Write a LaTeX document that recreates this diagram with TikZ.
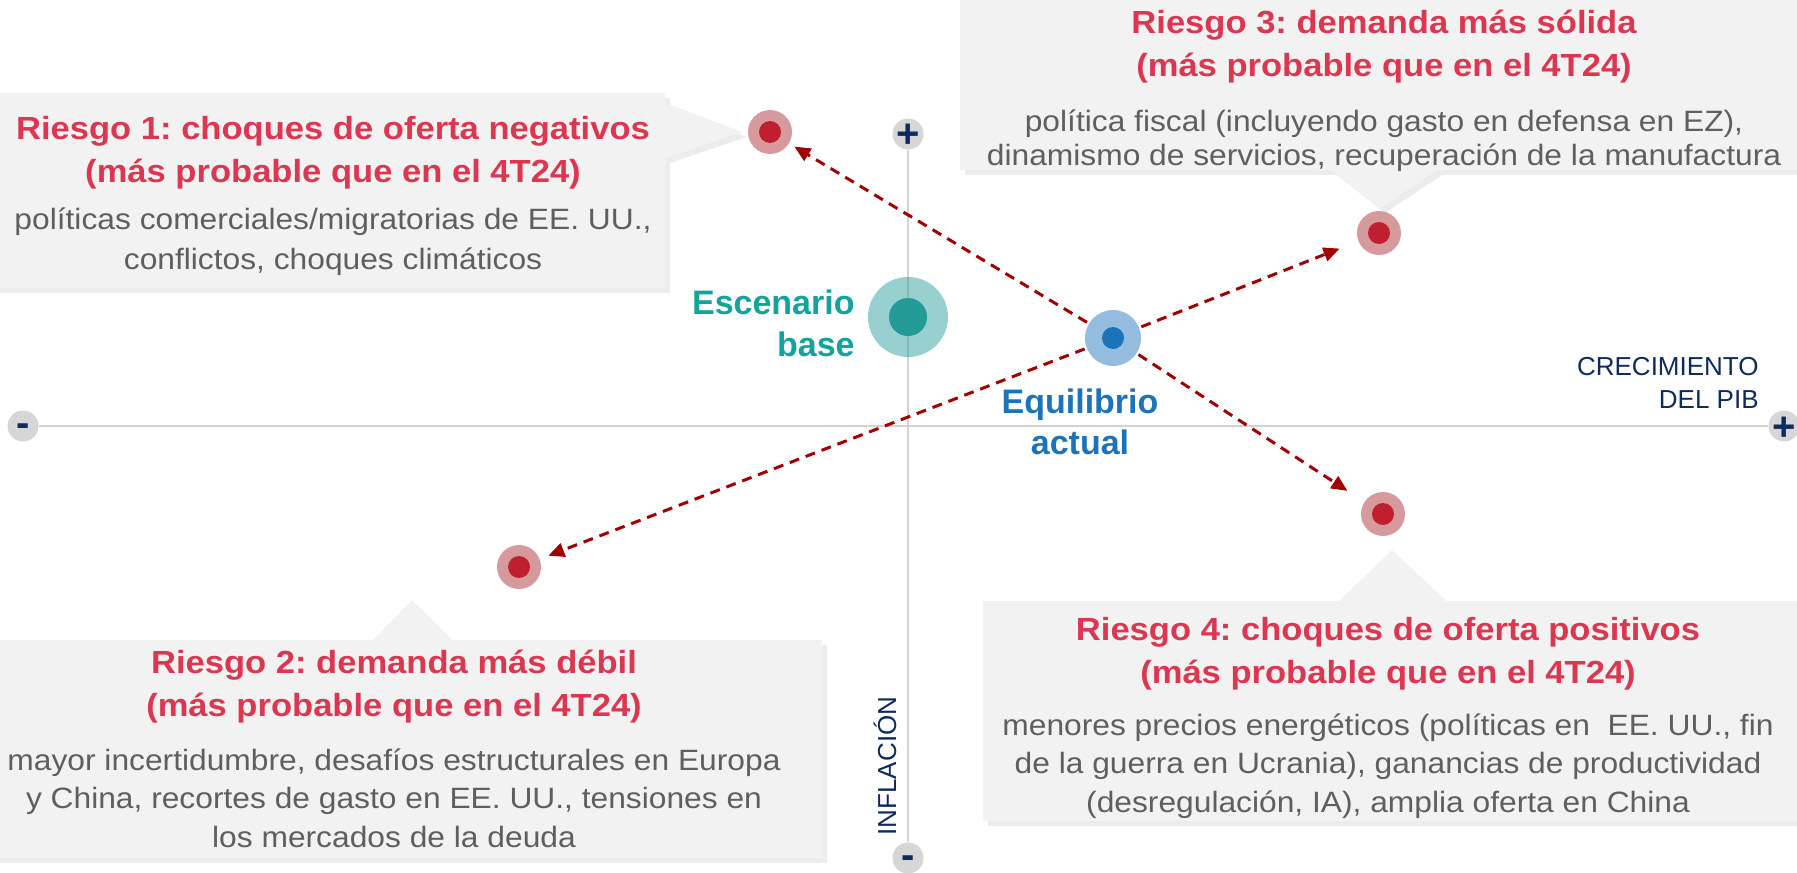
\documentclass[tikz,border=0pt]{standalone}
\usepackage{fontspec}
\setmainfont{Liberation Sans}
\newfontfamily\boxfont{Liberation Sans}[FakeStretch=1.08]
\usetikzlibrary{arrows.meta,shadows}
\frenchspacing

\definecolor{riskred}{HTML}{DC3751}
\definecolor{ringred}{HTML}{D79A9C}
\definecolor{dotred}{HTML}{C01F30}
\definecolor{ringteal}{HTML}{239B97}
\definecolor{tealtext}{HTML}{14A29C}
\definecolor{ringblue}{HTML}{94BCDF}
\definecolor{dotblue}{HTML}{1C73B9}
\definecolor{arrowred}{HTML}{A00000}
\definecolor{navy}{HTML}{0D2B5B}
\definecolor{axisgray}{HTML}{D3D3D3}
\definecolor{axisdot}{HTML}{D6D6D6}
\definecolor{boxgray}{HTML}{F2F2F2}
\definecolor{bodygray}{HTML}{5F5F5F}

\tikzset{
  callout/.style={fill=boxgray, drop shadow={shadow xshift=2.5pt, shadow yshift=-2.5pt, opacity=0.15}},
  risktitle/.style={align=center, inner sep=0pt, text=riskred, font=\boxfont\bfseries\fontsize{16}{21.5}\selectfont},
  riskbody/.style={align=center, inner sep=0pt, text=bodygray, font=\boxfont\fontsize{14.7}{#1}\selectfont},
  riskbody/.default=19.25pt,
  riskdot/.style={circle, fill=ringred, minimum size=22pt, inner sep=0pt,
    path picture={\fill[dotred] (path picture bounding box.center) circle (5.5pt);}},
  eqdot/.style={circle, fill=ringblue, minimum size=28pt, inner sep=0pt,
    path picture={\fill[dotblue] (path picture bounding box.center) circle (5.5pt);}},
  basedot/.style={circle, fill=ringteal, fill opacity=0.47, minimum size=40pt, inner sep=0pt,
    path picture={\fill[ringteal, fill opacity=1] (path picture bounding box.center) circle (9.5pt);}},
  baselabel/.style={align=right, inner sep=0pt, text=tealtext, font=\bfseries\fontsize{17}{21}\selectfont},
  eqlabel/.style={align=center, inner sep=0pt, text=dotblue, font=\bfseries\fontsize{17}{20.5}\selectfont},
  axisend/.style={circle, fill=axisdot, minimum size=15.5pt, inner sep=0pt},
  signtxt/.style={inner sep=0pt, text=navy, text depth=0pt, font=\bfseries\fontsize{20}{20}\selectfont},
  axislabel/.style={inner sep=0pt, text=navy, font=\fontsize{13}{16.5}\selectfont},
  axisline/.style={draw=axisgray, line width=1.3pt},
  riskarrow/.style={draw=arrowred, line width=1.5pt, dash pattern=on 5pt off 3.5pt,
    -{Triangle[length=8pt,width=7pt]}, shorten <=1pt}
}

\begin{document}
\begin{tikzpicture}[x=0.5pt, y=-0.5pt]
\useasboundingbox (0,0) rectangle (1797,872);

\fill[callout] (-10,93) -- (665,93) -- (665,103) -- (742,132) -- (665,158) -- (665,288) -- (-10,288) -- cycle;
\fill[callout] (-10,640) -- (373,640) -- (412,600) -- (452,640) -- (822,640) -- (822,858) -- (-10,858) -- cycle;
\fill[callout] (960,-10) -- (1807,-10) -- (1807,170) -- (1437,170) -- (1380,208) -- (1332,170) -- (960,170) -- cycle;
\fill[callout] (983,601) -- (1339,601) -- (1392,550) -- (1446,601) -- (1807,601) -- (1807,821) -- (983,821) -- cycle;

\node[axisend, label={[signtxt, text height=10.8pt]center:-}] (xminus) at (23,426) {};
\node[axisend, label={[signtxt, text height=14pt]center:+}] (xplus) at (1784,426) {};
\node[axisend, label={[signtxt, text height=14pt]center:+}] (yplus) at (908,134) {};
\node[axisend, label={[signtxt, text height=10.8pt]center:-}] (yminus) at (908,858) {};
\draw[axisline] (xminus) -- (xplus);
\draw[axisline] (yminus) -- (yplus);

\node[axislabel, align=right, anchor=east] (xlbl) at (1759,383) {CRECIMIENTO\\DEL PIB};
\node[axislabel, rotate=90] (ylbl) at (885,766) {INFLACIÓN};

\node[basedot] (base) at (908,317) {};
\node[eqdot] (eq) at (1113,338) {};
\node[riskdot] (r1) at (770,132) {};
\node[riskdot] (r2) at (519,567) {};
\node[riskdot] (r3) at (1379,233) {};
\node[riskdot] (r4) at (1383,514) {};

\node[baselabel, anchor=east] (baselbl) at (855,323) {Escenario\\base};
\node[eqlabel] (eqlbl) at (1080,422) {Equilibrio\\actual};

\draw[riskarrow, shorten >=3pt] (eq) -- (r1);
\draw[riskarrow, shorten >=4.5pt] (eq) -- (r2);
\draw[riskarrow, shorten >=10pt] (eq) -- (r3);
\draw[riskarrow, shorten >=10pt] (eq) -- (r4);

\node[risktitle] (t1) at (333,153) {Riesgo 1: choques de oferta negativos\\(más probable que en el 4T24)};
\node[riskbody=20pt] (b1) at (333,242) {políticas comerciales/migratorias de EE. UU.,\\conflictos, choques climáticos};
\node[risktitle] (t2) at (394,687) {Riesgo 2: demanda más débil\\(más probable que en el 4T24)};
\node[riskbody] (b2) at (394,798) {mayor incertidumbre, desafíos estructurales en Europa\\y China, recortes de gasto en EE. UU., tensiones en\\los mercados de la deuda};
\node[risktitle] (t3) at (1384,47) {Riesgo 3: demanda más sólida\\(más probable que en el 4T24)};
\node[riskbody=17pt] (b3) at (1384,141) {política fiscal (incluyendo gasto en defensa en EZ),\\dinamismo de servicios, recuperación de la manufactura};
\node[risktitle] (t4) at (1388,654) {Riesgo 4: choques de oferta positivos\\(más probable que en el 4T24)};
\node[riskbody] (b4) at (1388,766) {menores precios energéticos (políticas en\ \ EE. UU., fin\\de la guerra en Ucrania), ganancias de productividad\\(desregulación, IA), amplia oferta en China};
\end{tikzpicture}
\end{document}
